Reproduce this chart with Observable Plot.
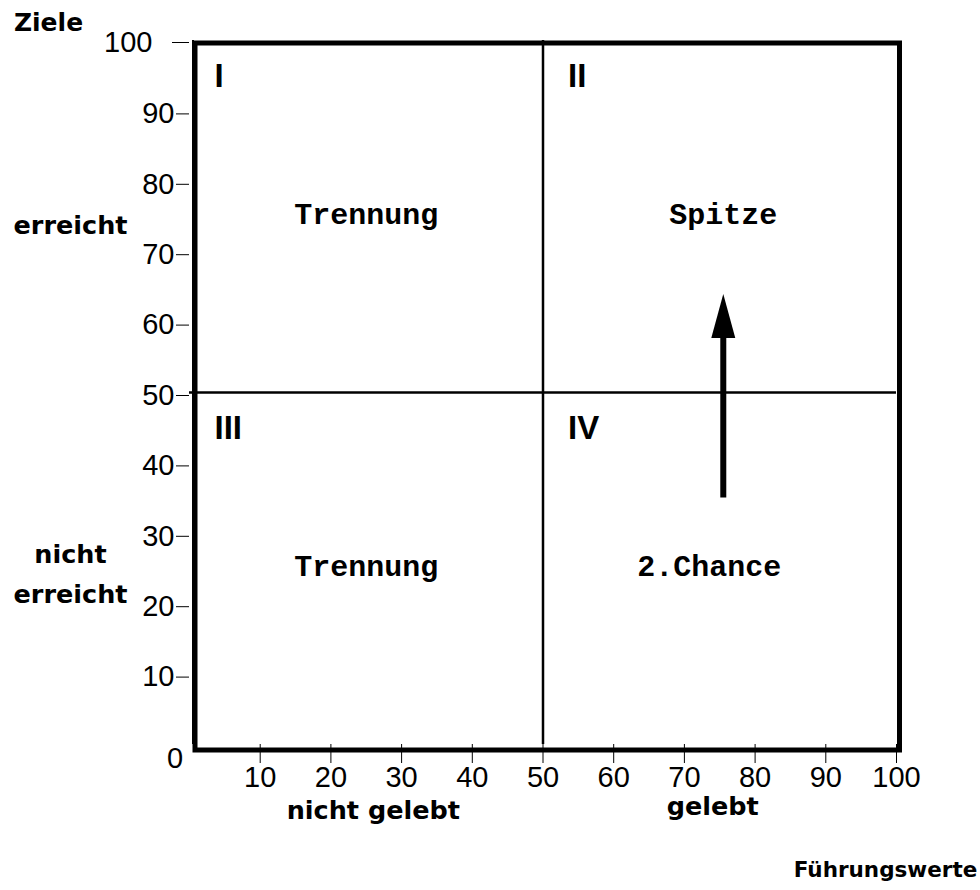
<!DOCTYPE html>
<html>
<head>
<meta charset="utf-8">
<script src="https://cdn.jsdelivr.net/npm/d3@7"></script>
<script src="https://cdn.jsdelivr.net/npm/@observablehq/plot@0.6"></script>
<style>
  html, body { margin: 0; padding: 0; background: #fff; }
  #chart svg { display: block; }
</style>
</head>
<body>
<div id="chart"></div>
<script>
// ---- data ----
const xTicks = [10, 20, 30, 40, 50, 60, 70, 80, 90, 100];
const yTicks = [10, 20, 30, 40, 50, 60, 70, 80, 90, 100];
const zeroLabel = ["0"];
const xCategories = [{label: "nicht gelebt", x: 26}, {label: "gelebt", x: 74}];
const yCategories = [{label: "erreicht", y: 74.4}, {label: "nicht\nerreicht", y: 24.8}];
const xTitle = ["Führungswerte"];
const yTitle = ["Ziele"];
const romans = [
  {label: "I", x: 0, y: 100},
  {label: "II", x: 50, y: 100},
  {label: "III", x: 0, y: 50},
  {label: "IV", x: 50, y: 50}
];
const quadrants = [
  {label: "Trennung", x: 25, y: 75},
  {label: "Spitze", x: 75.5, y: 75},
  {label: "Trennung", x: 25, y: 25},
  {label: "2.Chance", x: 73.5, y: 25}
];
const dividers = [50];
const arrows = [{x: 75.5, y1: 35, y2: 64}];

// ---- drawing ----
const sans = "'DejaVu Sans', sans-serif";
const arial = "'Liberation Sans', Arial, sans-serif";
const mono = "'Liberation Mono', 'Courier New', monospace";

const arrowHead = {
  draw(ctx) {
    ctx.moveTo(0, 0);
    ctx.lineTo(12, 44);
    ctx.lineTo(-12, 44);
    ctx.closePath();
  }
};

const chart = Plot.plot({
  width: 980,
  height: 890,
  marginLeft: 189,
  marginRight: 84,
  marginTop: 40,
  marginBottom: 146,
  style: {fontFamily: arial, background: "#fff", color: "#000"},
  x: {domain: [0, 100], axis: null},
  y: {domain: [0, 100], axis: null},
  marks: [
    // thin y axis line
    Plot.ruleX([0], {dx: 3.5, strokeWidth: 2, stroke: "#000"}),
    // quadrant dividers
    Plot.ruleX(dividers, {x: d => d, stroke: "#000", strokeWidth: 2.5}),
    Plot.ruleY(dividers, {y: d => d, stroke: "#000", strokeWidth: 2.5}),
    // axes
    Plot.axisY(yTicks.filter(d => d < 100), {tickSize: 13, tickPadding: 2, fontSize: 29, dy: 3, label: null, stroke: "#000", fill: "#000"}),
    Plot.axisY(yTicks.filter(d => d === 100), {tickSize: 17, tickPadding: 20, fontSize: 29, dy: 2, label: null, stroke: "#000", fill: "#000"}),
    Plot.axisX(xTicks, {anchor: "bottom", tickSize: 19, tickPadding: 3, fontSize: 29, label: null, stroke: "#000", fill: "#000"}),
    Plot.text(zeroLabel, {frameAnchor: "bottom-left", text: d => d, textAnchor: "middle", lineAnchor: "middle", dx: -14.5, dy: 14, fontSize: 29, fontFamily: arial}),
    // thick frame
    Plot.frame({stroke: "#000", strokeWidth: 5, insetLeft: 5.5, insetRight: -3, insetTop: 2.5, insetBottom: -5.5}),
    // arrow
    Plot.ruleX(arrows, {x: "x", y1: "y2", y2: "y1", strokeWidth: 6, stroke: "#000", insetTop: 40}),
    Plot.dot(arrows, {x: "x", y: "y2", symbol: arrowHead, fill: "#000", stroke: "none", r: 10}),
    // roman numerals
    Plot.text(romans, {x: "x", y: "y", text: "label", textAnchor: "start", lineAnchor: "middle", dx: 25, dy: 36, fontSize: 33, fontWeight: "bold", fontFamily: arial}),
    // quadrant labels
    Plot.text(quadrants, {x: "x", y: "y", text: "label", dy: -2, fontSize: 30, fontWeight: "bold", fontFamily: mono}),
    // category labels
    Plot.text(xCategories.slice(0, 1), {x: "x", frameAnchor: "bottom", text: "label", textAnchor: "middle", lineAnchor: "middle", dy: 66, fontSize: 25.5, fontWeight: "bold", fontFamily: sans}),
    Plot.text(xCategories.slice(1), {x: "x", frameAnchor: "bottom", text: "label", textAnchor: "middle", lineAnchor: "middle", dy: 62, fontSize: 25.5, fontWeight: "bold", fontFamily: sans}),
    Plot.text(yCategories, {y: "y", frameAnchor: "left", text: "label", textAnchor: "middle", lineAnchor: "middle", dx: -119, fontSize: 25.5, fontWeight: "bold", fontFamily: sans, lineHeight: 1.6}),
    // titles
    Plot.text(yTitle, {frameAnchor: "top-left", text: d => d, textAnchor: "middle", lineAnchor: "middle", dx: -141, dy: -18, fontSize: 25, fontWeight: "bold", fontFamily: sans}),
    Plot.text(xTitle, {frameAnchor: "bottom-right", text: d => d, textAnchor: "middle", lineAnchor: "middle", dx: -11, dy: 126, fontSize: 21.5, fontWeight: "bold", fontFamily: sans})
  ]
});
document.getElementById("chart").appendChild(chart);
</script>
</body>
</html>
